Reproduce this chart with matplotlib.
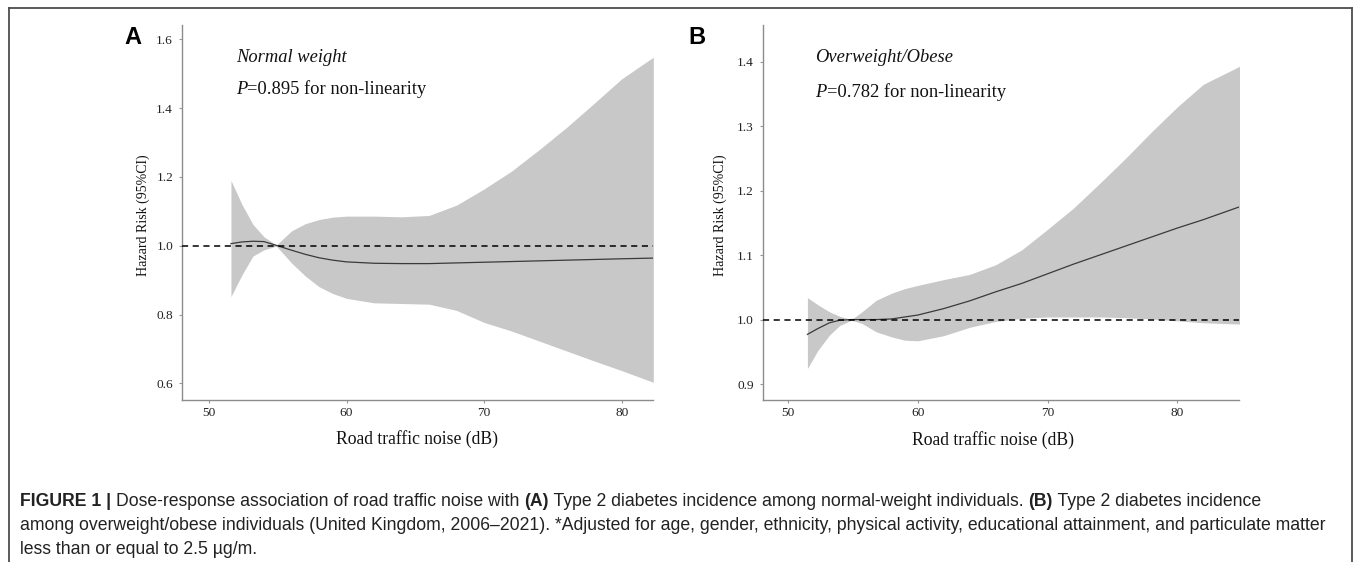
import numpy as np
import matplotlib
matplotlib.use("Agg")
import matplotlib.pyplot as plt
from matplotlib.lines import Line2D


# ==============================
# DATA
# ==============================

# panel A - normal weight
a_noise = [51.6, 52.4, 53.2, 54.0, 54.9, 56.0, 57.0, 58.0, 59.0, 60.0, 62.0,
           64.0, 66.0, 68.0, 70.0, 72.0, 74.0, 76.0, 78.0, 80.0, 82.3]
a_hr = [1.006, 1.011, 1.013, 1.012, 1.001, 0.987, 0.975, 0.965, 0.958, 0.953, 0.949,
        0.948, 0.948, 0.950, 0.952, 0.954, 0.956, 0.958, 0.960, 0.962, 0.964]
a_upper = [1.190, 1.120, 1.062, 1.026, 1.002, 1.043, 1.064, 1.076, 1.083, 1.086, 1.086,
           1.084, 1.088, 1.118, 1.165, 1.217, 1.279, 1.344, 1.414, 1.485, 1.548]
a_lower = [0.852, 0.915, 0.970, 0.988, 0.999, 0.950, 0.912, 0.881, 0.861, 0.847, 0.834,
           0.832, 0.830, 0.812, 0.777, 0.752, 0.723, 0.694, 0.665, 0.637, 0.603]

# panel B - overweight / obese
b_noise = [51.5, 52.3, 53.2, 54.0, 54.9, 55.7, 56.8, 58.0, 59.0, 60.0, 62.0,
           64.0, 66.0, 68.0, 70.0, 72.0, 74.0, 76.0, 78.0, 80.0, 82.0, 84.8]
b_hr = [0.977, 0.986, 0.995, 0.999, 1.000, 1.000, 1.000, 1.001, 1.004, 1.007, 1.017,
        1.029, 1.043, 1.056, 1.071, 1.086, 1.100, 1.114, 1.128, 1.142, 1.155, 1.175]
b_upper = [1.034, 1.023, 1.012, 1.005, 1.000, 1.012, 1.030, 1.041, 1.048, 1.053, 1.062,
           1.070, 1.085, 1.108, 1.140, 1.173, 1.211, 1.250, 1.291, 1.330, 1.365, 1.393]
b_lower = [0.924, 0.952, 0.976, 0.991, 0.999, 0.994, 0.981, 0.973, 0.968, 0.967, 0.975,
           0.988, 0.997, 1.002, 1.004, 1.004, 1.004, 1.003, 1.001, 0.998, 0.995, 0.993]

x_ticks = [50, 60, 70, 80]
a_yticks = [0.6, 0.8, 1.0, 1.2, 1.4, 1.6]
b_yticks = [0.9, 1.0, 1.1, 1.2, 1.3, 1.4]

panels = [
    ("A", "Normal weight", "0.895", a_noise, a_hr, a_upper, a_lower, a_yticks,
     (48.05, 82.3), (0.5515, 1.6416)),
    ("B", "Overweight/Obese", "0.782", b_noise, b_hr, b_upper, b_lower, b_yticks,
     (48.07, 84.77), (0.8752, 1.457)),
]

caption_lines = [
    [("FIGURE 1 | ", "bold"),
     ("Dose-response association of road traffic noise with ", "normal"),
     ("(A)", "bold"),
     (" Type 2 diabetes incidence among normal-weight individuals. ", "normal"),
     ("(B)", "bold"),
     (" Type 2 diabetes incidence", "normal")],
    [("among overweight/obese individuals (United Kingdom, 2006\u20132021). *Adjusted for age, "
      "gender, ethnicity, physical activity, educational attainment, and particulate matter", "normal")],
    [("less than or equal to 2.5 \u00b5g/m.", "normal")],
]


# ==============================
# FIGURE
# ==============================

W, H = 1355, 562
fig = plt.figure(figsize=(W / 100, H / 100), dpi=100)
SERIF = "Liberation Serif"
SANS = "Liberation Sans"
TXT = "#111111"


def px(x, y):
    return x / W, 1 - y / H


# frame around figure
frame_kw = dict(color="#4d4d4d", lw=1.3, transform=fig.transFigure)
fig.add_artist(Line2D([9 / W, 9 / W], [1 - 8 / H, -0.1], **frame_kw))
fig.add_artist(Line2D([1352 / W, 1352 / W], [1 - 8 / H, -0.1], **frame_kw))
fig.add_artist(Line2D([9 / W, 1352 / W], [1 - 8 / H, 1 - 8 / H], **frame_kw))

axes_px = [(182.1, 653.3), (762.9, 1239.3)]
text_px = [dict(letter=(124, 44), title=(235.7, 62.3), pval=(235.7, 94.0),
                ylab=(142.9, 215), xlab=(416.8, 444.3)),
           dict(letter=(688, 44), title=(815.3, 62.3), pval=(815.3, 96.7),
                ylab=(720.7, 215), xlab=(992.7, 445))]

for (letter, title, pval, xs, hr, up, lo, yt, xlim, ylim), (l, r), tp in zip(panels, axes_px, text_px):
    ax = fig.add_axes([l / W, 1 - 400 / H, (r - l) / W, 375 / H])

    ax.fill_between(xs, lo, up, color="#c8c8c8", lw=0, zorder=1)
    ax.plot(xs, hr, color="#3a3a3a", lw=0.9, zorder=3)
    ax.axhline(1.0, color="black", lw=1.1, ls=(0, (4, 3)), zorder=4)

    ax.set_xlim(*xlim)
    ax.set_ylim(*ylim)
    ax.set_xticks(x_ticks)
    ax.set_yticks(yt)
    ax.set_yticklabels([f"{v:.1f}" for v in yt])

    for s in ["top", "right"]:
        ax.spines[s].set_visible(False)
    for s in ["left", "bottom"]:
        ax.spines[s].set_color("#8c8c8c")
        ax.spines[s].set_linewidth(1.0)
    ax.tick_params(length=2.5, width=0.8, color="#9a9a9a", labelsize=9.6,
                   labelcolor="#222222")
    ax.tick_params(axis="y", pad=4)
    ax.tick_params(axis="x", pad=2.5)
    for lab in ax.get_xticklabels() + ax.get_yticklabels():
        lab.set_fontfamily(SERIF)

    fig.text(*px(*tp["letter"]), letter, fontsize=17, fontweight="bold",
             family=SANS, va="baseline", ha="left")
    fig.text(*px(*tp["title"]), title, fontsize=13.3, style="italic",
             family=SERIF, va="baseline", ha="left", color=TXT)
    t = fig.text(*px(*tp["pval"]), "P", fontsize=13.3, style="italic",
                 family=SERIF, va="baseline", ha="left", color=TXT)
    ax.annotate("=" + pval + " for non-linearity", xy=(1, 0), xycoords=t,
                va="bottom", ha="left", fontsize=13.3, family=SERIF, color=TXT)
    fig.text(*px(*tp["ylab"]), "Hazard Risk (95%CI)", rotation=90, fontsize=10,
             family=SERIF, va="center", ha="center", color=TXT)
    fig.text(*px(*tp["xlab"]), "Road traffic noise (dB)", fontsize=12.7,
             family=SERIF, va="baseline", ha="center", color=TXT)


# ==============================
# CAPTION
# ==============================

baselines = [506, 530, 553.5]
for segs, yb in zip(caption_lines, baselines):
    prev = None
    for txt, weight in segs:
        if prev is None:
            prev = fig.text(*px(20, yb), txt, fontsize=12.7, fontweight=weight,
                            family=SANS, va="baseline", ha="left", color="#222222")
        else:
            prev = plt.annotate(txt, xy=(1, 0), xycoords=prev, va="bottom", ha="left",
                                fontsize=12.7, fontweight=weight, family=SANS,
                                color="#222222", annotation_clip=False)

fig.savefig("out.png", dpi=100)
